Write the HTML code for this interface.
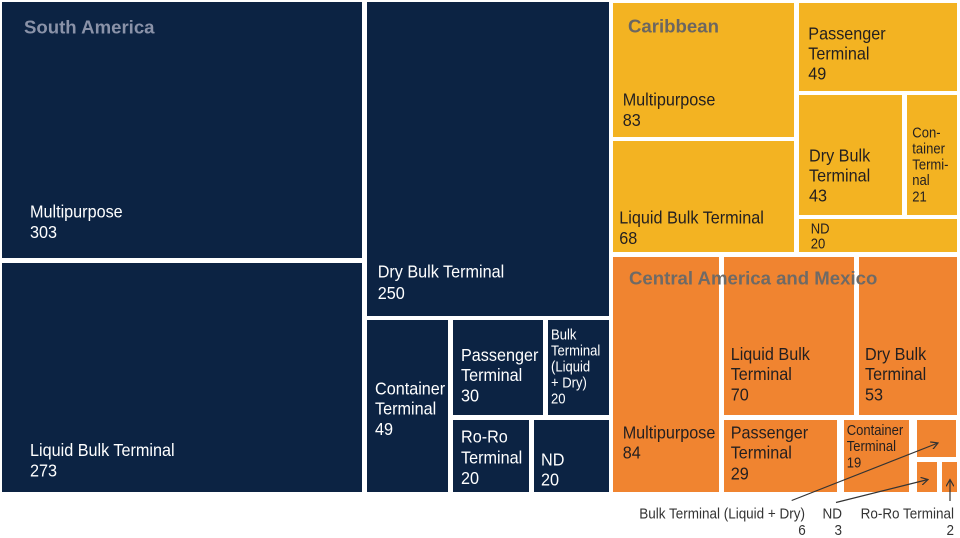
<!DOCTYPE html>
<html><head><meta charset="utf-8"><style>
html,body{margin:0;padding:0;background:#fff;}
svg{display:block;}
text{font-family:"Liberation Sans",sans-serif;}
.w{fill:#fff;font-size:18px;}
.d{fill:#231f20;font-size:18px;}
.ws{fill:#fff;font-size:14.5px;}
.ds{fill:#231f20;font-size:14.5px;}
.a{fill:#333;font-size:15px;}
.t{font-weight:bold;font-size:18.6px;}
</style></head><body>
<svg width="960" height="538" viewBox="0 0 960 538" xmlns="http://www.w3.org/2000/svg">
<rect width="960" height="538" fill="#fff"/>
<!-- South America -->
<g fill="#0c2343">
<rect x="2" y="2" width="360" height="256"/>
<rect x="2" y="263" width="360" height="229"/>
<rect x="367" y="2" width="242" height="314"/>
<rect x="367" y="320" width="81" height="172"/>
<rect x="453" y="320" width="90" height="95"/>
<rect x="548" y="320" width="61" height="95"/>
<rect x="453" y="420" width="76" height="72"/>
<rect x="534" y="420" width="75" height="72"/>
</g>
<!-- Caribbean -->
<g fill="#f3b322">
<rect x="613" y="3" width="181" height="134"/>
<rect x="613" y="141" width="181" height="111"/>
<rect x="799" y="3" width="158" height="88"/>
<rect x="799" y="95" width="103" height="120"/>
<rect x="907" y="95" width="50" height="120"/>
<rect x="799" y="219" width="158" height="33"/>
</g>
<!-- Central America -->
<g fill="#f08430">
<rect x="613" y="257" width="106" height="235"/>
<rect x="724" y="257" width="130" height="158"/>
<rect x="859" y="257" width="98" height="158"/>
<rect x="724" y="420" width="113" height="72"/>
<rect x="844" y="420" width="65" height="72"/>
<rect x="917" y="420" width="39" height="37"/>
<rect x="917" y="462" width="20" height="30"/>
<rect x="942" y="462" width="15" height="30"/>
</g>

<!-- Titles -->
<text class="t" x="24" y="33.3" fill="#8a92a8">South America</text>
<text class="t" x="628" y="32.3" fill="#6b6661">Caribbean</text>
<text class="t" x="629" y="284.3" fill="#6e6a66">Central America and Mexico</text>

<!-- South America labels -->
<g class="w">
<text transform="translate(30,217.3) scale(0.9,1)">Multipurpose</text>
<text transform="translate(30,237.8) scale(0.9,1)">303</text>
<text transform="translate(30,456) scale(0.9,1)">Liquid Bulk Terminal</text>
<text transform="translate(30,476.5) scale(0.9,1)">273</text>
<text transform="translate(377.7,277.5) scale(0.9,1)">Dry Bulk Terminal</text>
<text transform="translate(377.7,299) scale(0.9,1)">250</text>
<text transform="translate(375,394.3) scale(0.9,1)">Container</text>
<text transform="translate(375,414.3) scale(0.9,1)">Terminal</text>
<text transform="translate(375,435) scale(0.9,1)">49</text>
<text transform="translate(461,361) scale(0.9,1)">Passenger</text>
<text transform="translate(461,381) scale(0.9,1)">Terminal</text>
<text transform="translate(461,401.7) scale(0.9,1)">30</text>
<text transform="translate(461,442.7) scale(0.9,1)">Ro-Ro</text>
<text transform="translate(461,463.3) scale(0.9,1)">Terminal</text>
<text transform="translate(461,484) scale(0.9,1)">20</text>
<text transform="translate(541,465.7) scale(0.9,1)">ND</text>
<text transform="translate(541,485.7) scale(0.9,1)">20</text>
</g>
<g class="ws">
<text transform="translate(551,339.3) scale(0.9,1)">Bulk</text>
<text transform="translate(551,355.3) scale(0.9,1)">Terminal</text>
<text transform="translate(551,371.3) scale(0.9,1)">(Liquid</text>
<text transform="translate(551,387.3) scale(0.9,1)">+ Dry)</text>
<text transform="translate(551,403.3) scale(0.9,1)">20</text>
</g>

<!-- Caribbean labels -->
<g class="d">
<text transform="translate(622.7,105.7) scale(0.9,1)">Multipurpose</text>
<text transform="translate(622.7,126) scale(0.9,1)">83</text>
<text transform="translate(619.3,223.3) scale(0.9,1)">Liquid Bulk Terminal</text>
<text transform="translate(619.3,244) scale(0.9,1)">68</text>
<text transform="translate(808.3,39.3) scale(0.9,1)">Passenger</text>
<text transform="translate(808.3,59.3) scale(0.9,1)">Terminal</text>
<text transform="translate(808.3,79.3) scale(0.9,1)">49</text>
<text transform="translate(809,161.7) scale(0.9,1)">Dry Bulk</text>
<text transform="translate(809,181.7) scale(0.9,1)">Terminal</text>
<text transform="translate(809,201.7) scale(0.9,1)">43</text>
</g>
<g class="ds">
<text transform="translate(912.3,137.3) scale(0.9,1)">Con-</text>
<text transform="translate(912.3,153.3) scale(0.9,1)">tainer</text>
<text transform="translate(912.3,169.3) scale(0.9,1)">Termi-</text>
<text transform="translate(912.3,185) scale(0.9,1)">nal</text>
<text transform="translate(912.3,201.7) scale(0.9,1)">21</text>
<text transform="translate(810.7,233.3) scale(0.9,1)">ND</text>
<text transform="translate(810.7,248.3) scale(0.9,1)">20</text>
</g>

<!-- Central labels -->
<g class="d">
<text transform="translate(622.7,438.3) scale(0.9,1)">Multipurpose</text>
<text transform="translate(622.7,458.3) scale(0.9,1)">84</text>
<text transform="translate(730.7,360) scale(0.9,1)">Liquid Bulk</text>
<text transform="translate(730.7,380) scale(0.9,1)">Terminal</text>
<text transform="translate(730.7,400.7) scale(0.9,1)">70</text>
<text transform="translate(865,360) scale(0.9,1)">Dry Bulk</text>
<text transform="translate(865,380) scale(0.9,1)">Terminal</text>
<text transform="translate(865,400.7) scale(0.9,1)">53</text>
<text transform="translate(730.7,438.3) scale(0.9,1)">Passenger</text>
<text transform="translate(730.7,458.3) scale(0.9,1)">Terminal</text>
<text transform="translate(730.7,479.3) scale(0.9,1)">29</text>
</g>
<g class="ds">
<text transform="translate(846.7,435) scale(0.9,1)">Container</text>
<text transform="translate(846.7,451) scale(0.9,1)">Terminal</text>
<text transform="translate(846.7,467.3) scale(0.9,1)">19</text>
</g>

<!-- Annotations -->
<g class="a" text-anchor="end">
<text transform="translate(805,518.3) scale(0.9,1)">Bulk Terminal (Liquid + Dry)</text>
<text transform="translate(805.7,535) scale(0.9,1)">6</text>
<text transform="translate(842,518.3) scale(0.9,1)">ND</text>
<text transform="translate(842,535) scale(0.9,1)">3</text>
<text transform="translate(954,518.3) scale(0.9,1)">Ro-Ro Terminal</text>
<text transform="translate(954,535) scale(0.9,1)">2</text>
</g>
<defs>
<marker id="ah" markerWidth="8" markerHeight="8" refX="7" refY="4" orient="auto" markerUnits="userSpaceOnUse">
<path d="M0,0 L7,4 L0,8" fill="none" stroke="#333" stroke-width="1.2"/>
</marker>
</defs>
<g stroke="#333" stroke-width="1.2" fill="none">
<line x1="791.7" y1="500.5" x2="938" y2="443" marker-end="url(#ah)"/>
<line x1="836" y1="502.5" x2="928" y2="479.5" marker-end="url(#ah)"/>
<line x1="950" y1="501" x2="950" y2="479.5" marker-end="url(#ah)"/>
</g>
</svg>
</body></html>
